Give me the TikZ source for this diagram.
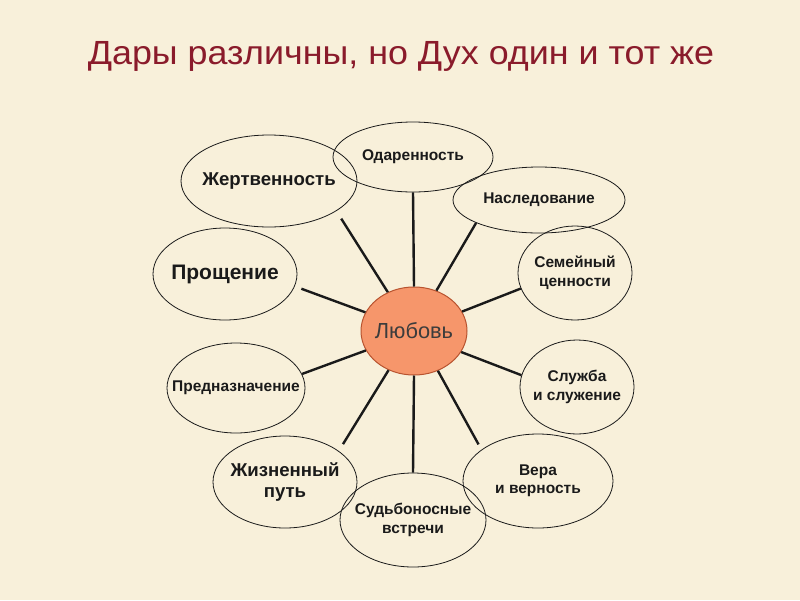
\documentclass[tikz,border=0pt]{standalone}
\usepackage{fontspec}
\setmainfont{Liberation Sans}
\newfontfamily\titrefont[FakeStretch=1.07]{Liberation Sans}
\usetikzlibrary{shapes.geometric}
\definecolor{fond}{HTML}{F8F0DA}
\definecolor{bordeaux}{HTML}{8A1B2B}
\definecolor{saumon}{HTML}{F6966B}
\definecolor{brique}{HTML}{B8532F}
\definecolor{encre}{HTML}{1A1A1A}
\tikzset{
  bulle/.style={ellipse, draw=encre, line width=0.8pt, inner sep=0pt},
  coeur/.style={ellipse, draw=brique, fill=saumon, line width=1pt, inner sep=0pt,
    minimum width=106pt, minimum height=88pt},
  etiquette/.style={font=\bfseries\fontsize{15.5}{18.5}\selectfont, align=center, text=encre},
  grande/.style={etiquette, font=\bfseries\fontsize{18.6}{21}\selectfont},
  titre/.style={font=\titrefont\fontsize{33.5}{38}\selectfont, text=bordeaux, inner sep=0pt},
  rayon/.style={line width=2.4pt, color=encre}
}

\begin{document}
\begin{tikzpicture}[x=1pt, y=-1pt]
    \fill[fond] (0,0) rectangle (800,600);
    \node[titre, anchor=base] (titre) at (401,64) {Дары различны, но Дух один и тот же};

    \node[coeur, label={[font=\fontsize{21.8}{24}\selectfont, text=encre!85]center:Любовь}] (coeur) at (414,331) {};

    \node[bulle, minimum width=160pt, minimum height=70pt, label={[etiquette]center:Одаренность}] (odar) at (413,157) {};
    \node[bulle, minimum width=176pt, minimum height=92pt, label={[grande]center:Жертвенность}] (jertv) at (269,181) {};
    \node[bulle, minimum width=172pt, minimum height=66pt, label={[etiquette]center:Наследование}] (nasl) at (539,200) {};
    \node[bulle, minimum width=114pt, minimum height=94pt, label={[etiquette]center:Семейный\\ ценности}] (famil) at (575,273) {};
    \node[bulle, minimum width=144pt, minimum height=92pt, label={[grande, font=\bfseries\fontsize{21}{24}\selectfont]center:Прощение}] (prosch) at (225,274) {};
    \node[bulle, minimum width=138pt, minimum height=90pt, label={[etiquette]center:Предназначение}] (predn) at (236,388) {};
    \node[bulle, minimum width=114pt, minimum height=94pt, label={[etiquette]center:Служба\\и служение}] (serv) at (577,387) {};
    \node[bulle, minimum width=144pt, minimum height=92pt, label={[grande]center:Жизненный\\путь}] (vie) at (285,482) {};
    \node[bulle, minimum width=146pt, minimum height=94pt, label={[etiquette]center:Судьбоносные\\встречи}] (rencontre) at (413,520) {};
    \node[bulle, minimum width=150pt, minimum height=94pt, label={[etiquette]center:Вера\\и верность}] (vera) at (538,481) {};

    % les rayons partent du coeur
    \draw[rayon] (coeur.90) -- (odar.270);
    \draw[rayon, shorten >=9pt] (coeur.124) -- (jertv.-24);
    \draw[rayon] (coeur.61) -- (nasl.200);
    \draw[rayon, shorten >=7pt] (coeur.159) -- (prosch.-10);
    \draw[rayon] (coeur.22) -- (famil.196);
    \draw[rayon] (coeur.-24) -- (serv.168);
    \draw[rayon, shorten >=6pt] (coeur.-59) -- (vera.151);
    \draw[rayon] (coeur.202) -- (predn.12);
    \draw[rayon, shorten >=8pt] (coeur.237) -- (vie.30);
    \draw[rayon] (coeur.270) -- (rencontre.90);
  \end{tikzpicture}
\end{document}
